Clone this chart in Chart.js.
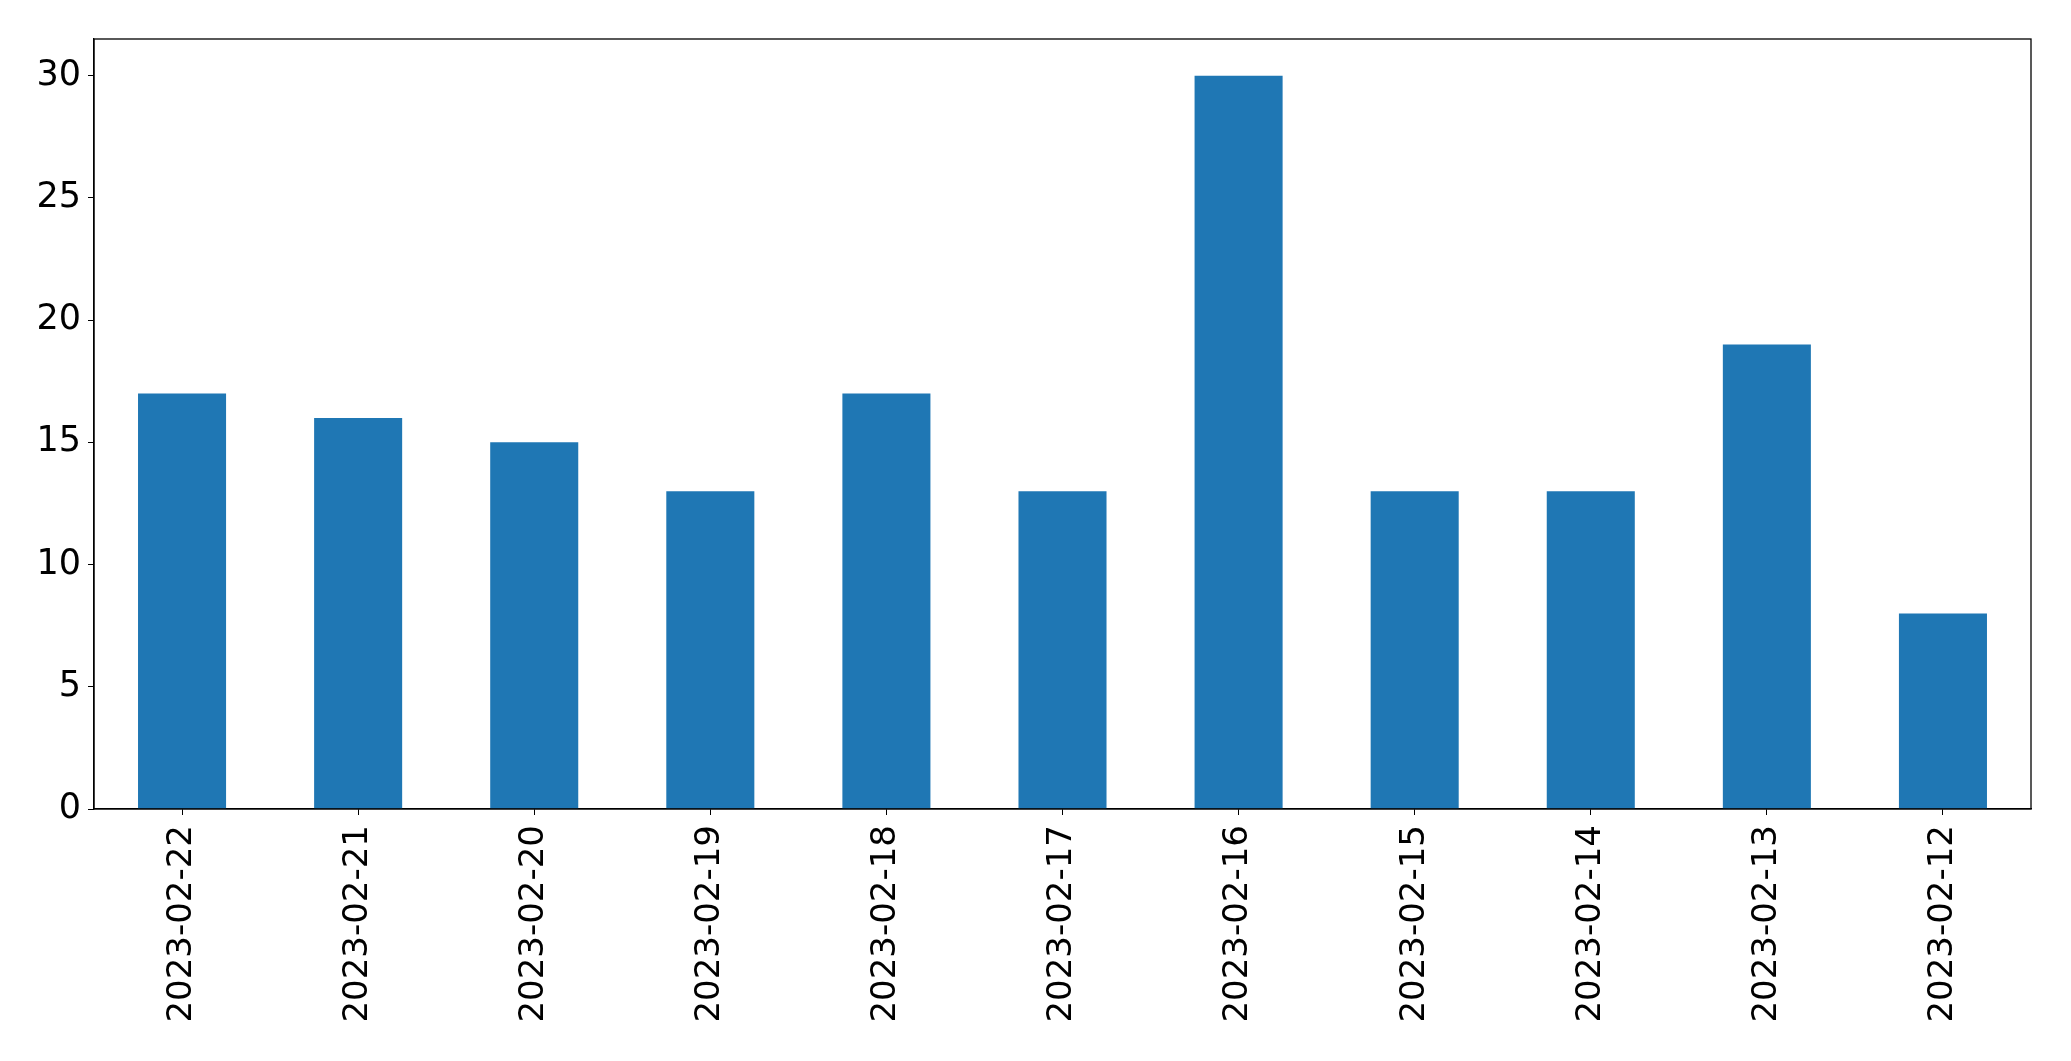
<!DOCTYPE html>
<html>
  <head>
    <title>Daily counts</title>
    <script src="https://cdn.jsdelivr.net/npm/chart.js@4.4.0/dist/chart.umd.min.js"></script>
    <style>
      body { margin: 0; background: #fff; }
      #wrap { width: 2071px; height: 1061px; }
    </style>
  </head>
  <body>
    <div id="wrap"><canvas id="myChart" width="2071" height="1061"></canvas></div>

    <script>
      // data
      var dates = ["2023-02-22", "2023-02-21", "2023-02-20", "2023-02-19", "2023-02-18", "2023-02-17",
                   "2023-02-16", "2023-02-15", "2023-02-14", "2023-02-13", "2023-02-12"];
      var counts = [17, 16, 15, 13, 17, 13, 30, 13, 13, 19, 8];
      var yTicks = [0, 5, 10, 15, 20, 25, 30];

      // box round the plot area, like matplotlib spines
      var frame = {
        id: "frame",
        afterDraw(chart) {
          var a = chart.chartArea;
          var ctx = chart.ctx;
          ctx.save();
          ctx.strokeStyle = "#000";
          ctx.lineWidth = 1.3;
          ctx.strokeRect(a.left, a.top, a.right - a.left, a.bottom - a.top);
          ctx.restore();
        }
      };

      var ctx = document.getElementById("myChart").getContext("2d");
      new Chart(ctx, {
        type: "bar",
        data: {
          labels: dates,
          datasets: [{
            data: counts,
            backgroundColor: "#1f77b4",
            categoryPercentage: 1.0,
            barPercentage: 0.5
          }]
        },
        options: {
          responsive: false,
          animation: false,
          layout: { padding: { top: 39, right: 40, left: 0, bottom: 0 } },
          plugins: { legend: { display: false }, tooltip: { enabled: false } },
          scales: {
            x: {
              offset: true,
              grid: { drawOnChartArea: false, tickLength: 6, color: "#000", offset: false },
              border: { display: true, color: "#000", width: 1.3 },
              ticks: {
                maxRotation: 90, minRotation: 90, padding: 10,
                color: "#000",
                font: { family: "DejaVu Sans", size: 34 }
              },
              afterFit(scale) { scale.height = 252; }
            },
            y: {
              min: 0,
              max: 31.5,
              grid: { drawOnChartArea: false, tickLength: 6, color: "#000" },
              border: { display: true, color: "#000", width: 1.3 },
              ticks: {
                padding: 7,
                color: "#000",
                font: { family: "DejaVu Sans", size: 35 }
              },
              afterBuildTicks(scale) {
                scale.ticks = yTicks.map(v => ({ value: v }));
              },
              afterFit(scale) { scale.width = 94; }
            }
          }
        },
        plugins: [frame]
      });
    </script>
  </body>
</html>
